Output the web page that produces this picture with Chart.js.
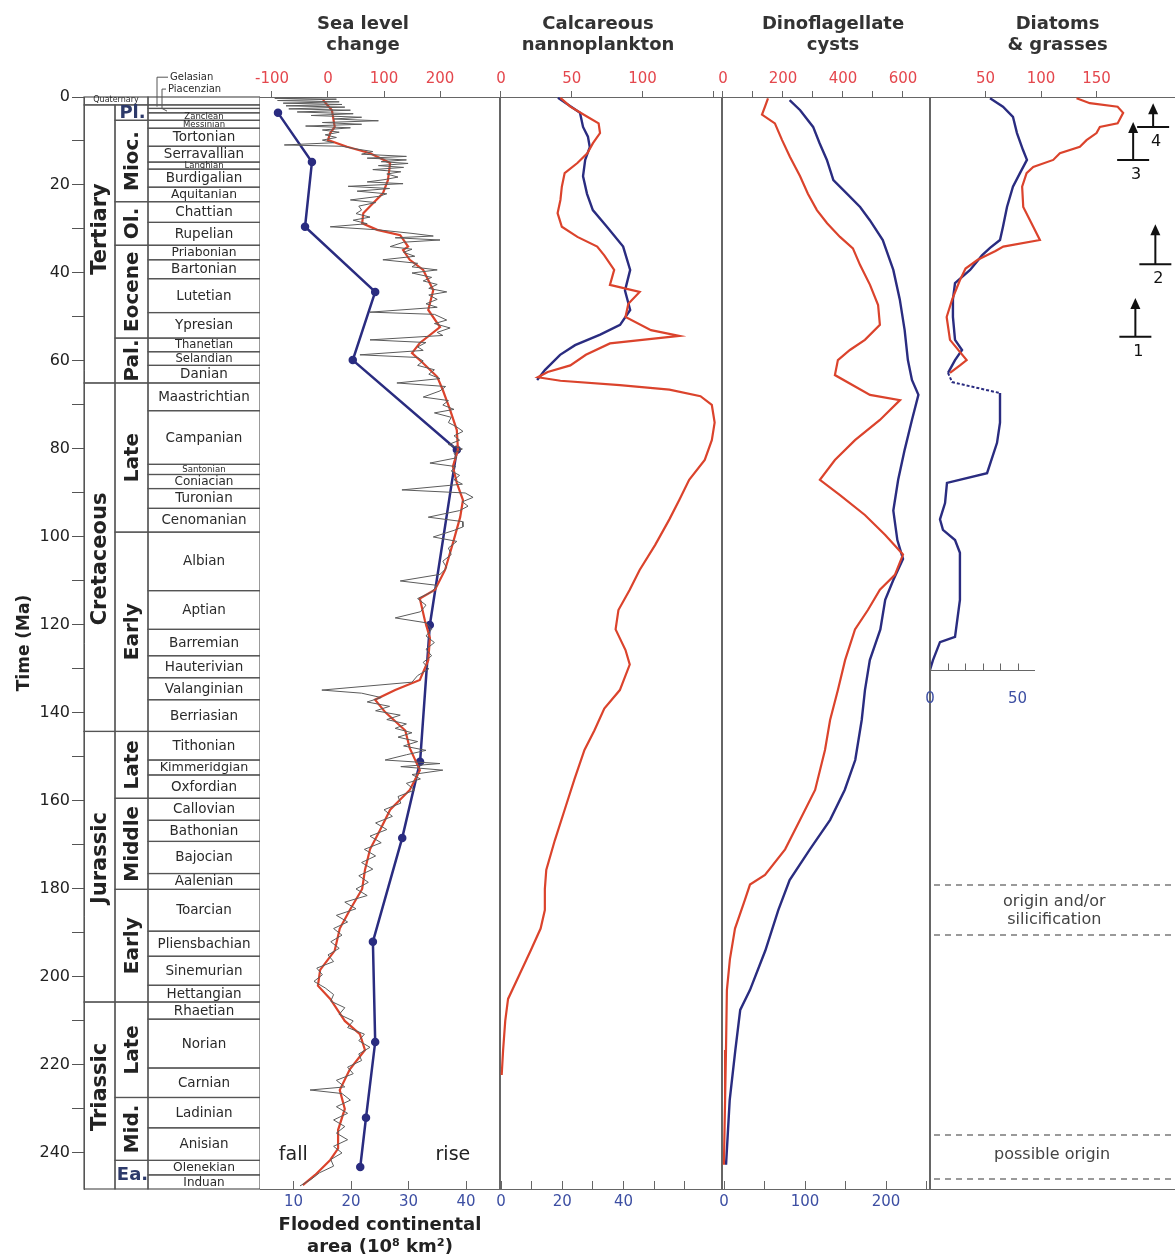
<!DOCTYPE html>
<html>
<head>
<meta charset="utf-8">
<title>Sea level and phytoplankton diversity</title>
<script src="https://cdn.jsdelivr.net/npm/chart.js@4"></script>
<style>
  html, body { margin: 0; padding: 0; background: #fff; overflow: hidden; }
  #page { position: relative; width: 1175px; height: 1258px; }
  #page canvas { position: absolute; top: 0; }
</style>
</head>
<body>
<div id="page">
  <canvas id="timeChart" width="260" height="1258" style="left:0px"></canvas>
  <canvas id="seaChart" width="320" height="1258" style="left:220px"></canvas>
  <canvas id="nannoChart" width="302" height="1258" style="left:460px"></canvas>
  <canvas id="dinoChart" width="288" height="1258" style="left:682px"></canvas>
  <canvas id="diaChart" width="285" height="1258" style="left:890px"></canvas>
</div>
<script>
// ---------- time scale (Ma) ----------
const timeTicks = [0, 10, 20, 30, 40, 50, 60, 70, 80, 90, 100, 110, 120, 130, 140, 150, 160, 170, 180, 190, 200, 210, 220, 230, 240];
const timeLabels = [0, 20, 40, 60, 80, 100, 120, 140, 160, 180, 200, 220, 240];

const periodNames = ['Tertiary', 'Cretaceous', 'Jurassic', 'Triassic'];
const periodTop = [1.8, 65.0, 144.2, 205.7];
const periodBase = [65.0, 144.2, 205.7, 248.2];
const periodLabelAge = [30, 105, 173, 225];

const epochNames = ['Pl.', 'Mioc.', 'Ol.', 'Eocene', 'Pal.', 'Late', 'Early', 'Late', 'Middle', 'Early', 'Late', 'Mid.', 'Ea.'];
const epochTop = [1.8, 5.3, 23.8, 33.7, 54.8, 65.0, 98.9, 144.2, 159.4, 180.1, 205.7, 227.4, 241.7];
const epochBase = [5.3, 23.8, 33.7, 54.8, 65.0, 98.9, 144.2, 159.4, 180.1, 205.7, 227.4, 241.7, 248.2];
const epochUpright = ['Pl.', 'Ea.'];

const stageNames = ['Gelasian', 'Piacenzian', 'Zanclean', 'Messinian', 'Tortonian', 'Serravallian', 'Langhian',
  'Burdigalian', 'Aquitanian', 'Chattian', 'Rupelian', 'Priabonian', 'Bartonian', 'Lutetian', 'Ypresian',
  'Thanetian', 'Selandian', 'Danian', 'Maastrichtian', 'Campanian', 'Santonian', 'Coniacian', 'Turonian',
  'Cenomanian', 'Albian', 'Aptian', 'Barremian', 'Hauterivian', 'Valanginian', 'Berriasian', 'Tithonian',
  'Kimmeridgian', 'Oxfordian', 'Callovian', 'Bathonian', 'Bajocian', 'Aalenian', 'Toarcian', 'Pliensbachian',
  'Sinemurian', 'Hettangian', 'Rhaetian', 'Norian', 'Carnian', 'Ladinian', 'Anisian', 'Olenekian', 'Induan'];
const stageBase = [2.6, 3.6, 5.3, 7.1, 11.2, 14.8, 16.4, 20.5, 23.8, 28.5, 33.7, 37.0, 41.3, 49.0, 54.8,
  57.9, 61.0, 65.0, 71.3, 83.5, 85.8, 89.0, 93.5, 98.9, 112.2, 121.0, 127.0, 132.0, 137.0, 144.2, 150.7,
  154.1, 159.4, 164.4, 169.2, 176.5, 180.1, 189.6, 195.3, 201.9, 205.7, 209.6, 220.7, 227.4, 234.3, 241.7, 245.0, 248.2];
const stageOutside = ['Gelasian', 'Piacenzian'];

// ---------- series: [age Ma, value] ----------
// sea level change (m), short-term curve
const seaShort = [
  [0, -10], [0.3, -95], [0.5, 15], [0.8, -90], [1.1, 20], [1.4, -80], [1.7, 25], [2.0, -75], [2.3, 30], [2.7, -70],
  [3.0, 40], [3.4, -55], [3.8, 45], [4.2, -30], [4.6, 60], [5.0, 10], [5.4, 90], [5.8, -10], [6.2, 60], [6.6, -40],
  [7.0, 40], [7.5, -10], [8.0, 20], [8.6, -5], [9.2, 15], [9.8, -10], [10.4, 10], [10.9, -78], [11.2, 25], [11.8, 50],
  [12.4, 80], [13.0, 60], [13.5, 140], [13.9, 70], [14.3, 140], [14.7, 95], [15.1, 143], [15.6, 90], [16.0, 135], [16.5, 80],
  [17.0, 130], [17.5, 105], [18.2, 125], [18.8, 100], [19.3, 70], [19.7, 134], [20.3, 36], [20.8, 110], [21.4, 52], [22.0, 105],
  [22.6, 90], [23.4, 40], [24.0, 85], [24.8, 55], [25.7, 60], [26.5, 50], [27.3, 75], [28.0, 45], [28.8, 70], [29.5, 4],
  [30.2, 90], [31.0, 150], [31.6, 188], [32.0, 120], [32.5, 200], [33.0, 135], [34.0, 111], [34.6, 150], [35.3, 135], [36.2, 155],
  [37.0, 98], [37.8, 160], [38.6, 150], [39.3, 195], [40.0, 150], [41.0, 185], [41.8, 170], [42.6, 195], [43.5, 180], [44.3, 212],
  [45.0, 180], [46.0, 195], [47.0, 175], [47.8, 195], [48.9, 75], [49.4, 190], [50.7, 212], [51.5, 190], [52.5, 218], [53.5, 195],
  [54.2, 205], [55.2, 75], [55.8, 175], [56.8, 160], [57.6, 170], [58.6, 57], [59.2, 160], [60.0, 170], [61.0, 160], [62.0, 190],
  [63.0, 180], [64.0, 200], [65.0, 123], [65.8, 210], [66.8, 200], [68.2, 170], [69.0, 215], [70.0, 205], [71.0, 225], [71.8, 190],
  [72.8, 220], [74.0, 215], [75.0, 230], [76.0, 241], [77.0, 225], [78.0, 235], [79.0, 215], [80.0, 240], [81.0, 225], [82.0, 230],
  [83.2, 182], [84.0, 228], [85.0, 220], [86.0, 235], [87.0, 225], [88.0, 240], [89.3, 132], [90.0, 245], [91.0, 259], [92.0, 240],
  [93.0, 250], [94.0, 235], [95.5, 179], [96.5, 240], [97.7, 241], [98.5, 225], [100.0, 188], [101.0, 230], [102.5, 215], [104.0, 220],
  [105.5, 205], [107.0, 212], [108.5, 200], [110.0, 129], [111.0, 195], [112.5, 185], [114.0, 160], [115.5, 175], [117.0, 165], [118.4, 120],
  [119.5, 175], [121.0, 185], [122.5, 175], [124.0, 190], [125.5, 175], [127.0, 185], [128.5, 170], [130.0, 180], [131.5, 160], [133.0, 150],
  [134.8, -11], [135.5, 60], [136.5, 95], [137.5, 70], [138.5, 110], [139.5, 85], [140.5, 129], [141.5, 105], [142.5, 140], [143.5, 120],
  [144.5, 150], [145.5, 125], [146.5, 160], [147.5, 135], [148.5, 175], [149.5, 140], [150.7, 102], [151.5, 200], [152.2, 130], [153.0, 205],
  [154.0, 150], [155.0, 165], [156.0, 140], [157.5, 155], [159.0, 125], [160.5, 130], [162.0, 100], [163.5, 115], [165.0, 85], [166.5, 105],
  [168.0, 75], [169.5, 95], [171.0, 65], [172.5, 85], [174.0, 60], [175.5, 80], [177.0, 55], [178.5, 72], [180.0, 50], [181.5, 70],
  [183.0, 30], [184.5, 50], [186.0, 15], [187.5, 35], [189.0, 10], [190.5, 25], [192.0, 5], [193.5, 20], [195.0, 0], [196.5, 10],
  [198.0, -20], [199.5, -10], [201.0, -25], [202.5, -5], [204.0, 10], [205.5, 5], [207.0, 30], [208.5, 20], [210.0, 45], [211.5, 35],
  [213.0, 65], [214.5, 55], [216.0, 75], [217.5, 55], [219.0, 60], [220.5, 35], [222.0, 45], [223.5, 15], [225.0, 30], [225.7, -32],
  [226.5, 25], [228.0, 40], [229.5, 15], [231.0, 35], [232.5, 10], [234.0, 30], [235.5, 15], [237.0, 35], [238.5, 10], [240.0, 25],
  [241.5, 5], [243.0, 10], [244.5, -15], [246.0, -30], [247.5, -50]
];
// sea level change (m), long-term curve
const seaLong = [
  [0.7, -9], [3, 7], [6.8, 12], [8.2, 4], [9.8, 0], [11.3, 34], [12.8, 75], [15, 111], [18.9, 107], [21.9, 98],
  [24.2, 80], [26.4, 63], [28.7, 61], [30.2, 88], [31.4, 129], [34, 143], [34.8, 134], [37, 146], [39.3, 170], [43.9, 188],
  [48.4, 179], [52.3, 200], [55.9, 164], [58.2, 150], [60.5, 170], [63.6, 195], [66.6, 205], [71.1, 218], [75.7, 230], [80.2, 232],
  [84, 223], [87.7, 230], [91.6, 241], [95.5, 236], [101.4, 223], [107.5, 209], [112, 191], [114, 164], [119, 173], [123, 182],
  [128, 179], [132.5, 164], [134.8, 120], [137, 84], [139.8, 102], [144, 138], [148, 146], [153, 164], [157.5, 146], [162, 111],
  [166.6, 93], [171, 75], [175.7, 66], [180, 61], [184.8, 39], [189, 21], [194, 12], [198.4, -14], [202, -18], [205, 4],
  [210, 30], [213, 57], [216.6, 66], [221, 39], [225.7, 21], [230, 30], [234.8, 18], [239, 18], [241.6, 4], [245, -23], [247.3, -45]
];
// flooded continental area (10^6 km2)
const floodArea = [
  [3.6, 7.3], [14.8, 13.2], [29.5, 12.0], [44.3, 24.2], [59.8, 20.3], [80.2, 38.4], [120, 33.7],
  [151.1, 32.0], [168.4, 28.9], [192, 23.8], [214.8, 24.2], [232, 22.6], [243.2, 21.6]
];
// calcareous nannoplankton
const nannoRed = [
  [0.2, 42], [2.2, 49], [4.5, 61], [6, 69], [8.2, 70], [10.5, 65], [12.8, 61], [15, 54], [17.3, 45], [20.4, 43],
  [23.4, 42], [26.4, 40], [29.5, 43], [31.8, 54], [34, 68], [36, 73], [39.3, 80], [42.7, 77], [44.3, 98], [47, 90],
  [50, 88], [53, 106], [54.3, 126], [56, 77], [58.6, 60], [61, 49], [62.5, 33], [63.7, 26], [64.5, 42], [65.5, 84],
  [66.5, 119], [68, 141], [70, 149], [74, 151], [78, 149], [82.5, 144], [87, 133], [91.6, 126], [96, 119], [101.8, 109],
  [107.5, 98], [112, 91], [116.6, 83], [121, 81], [125.7, 88], [129, 91], [134.8, 84], [139, 73], [144, 66], [148.4, 59],
  [155, 52], [162, 45], [169, 38], [175.7, 32], [180, 31], [184.8, 31], [189, 28], [194, 21], [199.5, 13], [205, 5],
  [210, 3], [216.6, 1.5], [222.3, 0.5]
];
const nannoBlue = [
  [0.2, 18.6], [3.6, 25.8], [6.8, 26.8], [9, 28.4], [11.4, 29], [14.3, 27.5], [18, 26.8], [22, 28.1], [25.7, 30], [29.5, 34.6],
  [34, 39.9], [39.3, 42.2], [44, 40.5], [48.4, 42.2], [51.8, 38.9], [54, 32.4], [56.4, 24.2], [58.6, 19.3], [62, 14.4], [64.3, 11.8]
];
// dinoflagellate cysts
const dinoRed = [
  [0.3, 150], [2.2, 140], [4, 130], [6, 173], [9.8, 197], [13.6, 223], [18, 257], [22, 283], [25.7, 313], [28.7, 347],
  [31.8, 390], [34.4, 433], [38.2, 457], [42.7, 490], [47.3, 517], [51.8, 523], [55.2, 473], [57.5, 423], [59.8, 383], [63.2, 373],
  [67.7, 490], [68.9, 590], [73.4, 523], [78, 440], [82.5, 373], [87, 323], [90.5, 390], [95, 473], [99.5, 540], [104, 600],
  [108.6, 573], [112, 523], [116.6, 483], [121, 440], [128, 407], [134.8, 383], [141.6, 357], [148.4, 340], [157.5, 307], [164.3, 257],
  [171, 207], [176.8, 140], [179, 90], [182.5, 73], [189, 40], [196, 23], [203, 13], [216.6, 10], [228, 7], [242.7, 3]
];
const dinoBlue = [
  [0.7, 81], [3, 94], [6.8, 110], [10.5, 118], [14.3, 127], [18.9, 135], [22, 152], [25, 168], [28, 180], [32.5, 196],
  [39.3, 209], [46, 217], [53, 223], [59.8, 227], [64.3, 232], [67.7, 240], [73.4, 232], [80.2, 223], [87, 215], [94, 209],
  [100.7, 214], [105, 221], [109.8, 209], [114.3, 199], [121, 193], [128, 180], [134.8, 174], [141.6, 170], [150.7, 162], [157.5, 149],
  [164.3, 131], [171, 106], [178, 81], [184.8, 67], [194, 51], [203, 32], [207.5, 20], [216.6, 14], [228, 7], [242.7, 2.5]
];
// diatoms & grasses
const diaRed = [
  [0.3, 132], [1.4, 144], [2.2, 169], [3.6, 174], [6, 169], [6.8, 153], [8.2, 150], [9.8, 141], [11.3, 135], [12.8, 117],
  [14.3, 111], [15.9, 93], [17.3, 87], [20.4, 83], [25, 84], [29.5, 93], [32.5, 99], [34, 66], [35, 59], [37, 43],
  [39, 32], [41.6, 27], [46, 20], [50, 15], [55.2, 18], [59.8, 33], [61, 27], [62.7, 18]
];
const diaBlue = [
  [0.3, 34.3], [2.2, 41.7], [4.5, 47.4], [8.2, 49.7], [12, 53.1], [14.3, 55.4], [17.3, 51.4], [20.4, 47.4], [25, 44.0], [29.5, 41.7],
  [32.5, 40.0], [34.3, 34.3], [36, 29.7], [39.3, 22.9], [42.3, 14.3], [46, 13.1], [50, 13.1], [55.2, 14.3], [57.5, 18.3], [59.8, 14.3], [62.7, 10.3]
];
const diaBlueGap = [[62.7, 10.3], [64.8, 12.6], [67.3, 40]];
const diaBlueOld = [
  [67.3, 40], [74, 40], [78.6, 38.3], [85.5, 32.6], [87.7, 9.7], [92.3, 8.6], [96, 5.7], [98.4, 7.4], [100.7, 14.3], [103.6, 17.1],
  [114.3, 17.1], [122.7, 14.3], [123.9, 5.7], [128, 1.7], [130.2, 0]
];

// ---------- axis ticks ----------
const seaTopTicks = [-100, 0, 100, 200];
const seaBotTicks = [10, 20, 30, 40];
const nannoTopTicks = [0, 50, 100, 150];
const nannoTopLabels = [0, 50, 100];
const nannoBotTicks = [0, 10, 20, 30, 40, 50, 60];
const nannoBotLabels = [0, 20, 40];
const dinoTopTicks = [0, 100, 200, 300, 400, 500, 600];
const dinoTopLabels = [0, 200, 400, 600];
const dinoBotTicks = [0, 50, 100, 150, 200, 250];
const dinoBotLabels = [0, 100, 200];
const diaTopTicks = [50, 100, 150];
const diaMiniTicks = [0, 10, 20, 30, 40, 50];
const diaMiniLabels = [0, 50];

// ---------- annotations ----------
const seaNotes = [['fall', -62, 240.5], ['rise', 223, 240.5]];
const diaDashAge = [179, 190.5, 236, 246];
const diaNotes = [['origin and/or', 112, 183], ['silicification', 112, 187], ['possible origin', 110, 240.5]];
const markerLabel = ['1', '2', '3', '4'];
const markerVal = [185, 203, 183, 201];
const markerAge = [54.5, 38, 14.3, 6.8];
const markerTip = [45.7, 28.9, 5.7, 1.4];

// ---------- styling ----------
const FONT = '"DejaVu Sans", "Liberation Sans", sans-serif';
const RED = '#db432c', BLUE = '#2a2c80', GREY = '#5b5b5b';
const RED_TXT = '#e4474d', BLUE_TXT = '#3d4fa3', AXIS = '#666', INK = '#2a2a2a';
const AGE_MAX = 248.2;
const columnEdges = [0, 31, 64, 176];

Chart.defaults.font.family = FONT;
Chart.defaults.animation = false;

const profile = pairs => pairs.map(p => ({ x: p[1], y: p[0] }));

function lineSet(pairs, axis, color, width, extra) {
  return Object.assign({
    data: profile(pairs), xAxisID: axis, yAxisID: 'y', showLine: true,
    borderColor: color, backgroundColor: color, borderWidth: width, pointRadius: 0, tension: 0
  }, extra || {});
}

const ageAxis = () => ({ type: 'linear', reverse: true, min: 0, max: AGE_MAX, display: false });

function topAxis(min, max, ticks, labels) {
  return {
    type: 'linear', position: 'top', min: min, max: max,
    afterFit: s => { s.height = 97; },
    afterBuildTicks: s => { s.ticks = ticks.map(v => ({ value: v })); },
    ticks: { autoSkip: false, maxRotation: 0, color: RED_TXT, padding: 3, font: { size: 15 },
      callback: v => labels.includes(v) ? String(v) : '' },
    grid: { drawOnChartArea: false, tickLength: 6, color: AXIS },
    border: { color: AXIS }
  };
}

function bottomAxis(min, max, ticks, labels, title) {
  const ax = {
    type: 'linear', position: 'bottom', min: min, max: max,
    afterFit: s => { s.height = 69; },
    afterBuildTicks: s => { s.ticks = ticks.map(v => ({ value: v })); },
    ticks: { autoSkip: false, maxRotation: 0, color: BLUE_TXT, padding: 12, font: { size: 15 },
      callback: v => labels.includes(v) ? String(v) : '' },
    grid: { drawOnChartArea: false, tickLength: -8, color: AXIS },
    border: { color: AXIS }
  };
  if (title) {
    ax.title = { display: true, text: title, color: '#222', font: { size: 18, weight: 'bold' }, lineHeight: 1.05, padding: { bottom: 0 } };
  }
  return ax;
}

// ---------- plugins ----------
const panelTitle = {
  id: 'panelTitle',
  afterDraw(chart, args, opts) {
    if (!opts.lines) return;
    const { ctx, chartArea: a } = chart;
    ctx.save();
    ctx.font = 'bold 18px ' + FONT;
    ctx.fillStyle = '#333';
    ctx.textAlign = 'center';
    ctx.textBaseline = 'middle';
    const cx = (a.left + a.right) / 2 + (opts.dx || 0);
    opts.lines.forEach((t, i) => ctx.fillText(t, cx, 24 + i * 21));
    ctx.restore();
  }
};

const panelFrame = {
  id: 'panelFrame',
  defaults: { left: true, right: true },
  beforeDatasetsDraw(chart, args, opts) {
    const { ctx, chartArea: a } = chart;
    ctx.save();
    ctx.strokeStyle = AXIS;
    ctx.lineWidth = 1;
    ctx.beginPath();
    if (opts.left) { ctx.moveTo(Math.round(a.left) + 0.5, a.top); ctx.lineTo(Math.round(a.left) + 0.5, a.bottom); }
    if (opts.right) { ctx.moveTo(Math.round(a.right) - 0.5, a.top); ctx.lineTo(Math.round(a.right) - 0.5, a.bottom); }
    ctx.stroke();
    ctx.restore();
  }
};
Chart.register(panelTitle, panelFrame);

const timescale = {
  id: 'timescale',
  afterDraw(chart) {
    const { ctx, scales: { x, y } } = chart;
    const cx = columnEdges.map(v => x.getPixelForValue(v));
    const py = a => y.getPixelForValue(a);
    const rect = (c0, c1, t, b) => ctx.strokeRect(cx[c0], py(t), cx[c1] - cx[c0], py(b) - py(t));
    const vtext = (s, xm, ym) => {
      ctx.save(); ctx.translate(xm, ym); ctx.rotate(-Math.PI / 2); ctx.fillText(s, 0, 0); ctx.restore();
    };
    ctx.save();
    ctx.strokeStyle = '#555';
    ctx.lineWidth = 1.2;
    ctx.textAlign = 'center';
    ctx.textBaseline = 'middle';

    rect(0, 2, 0, 1.8);
    ctx.font = '8px ' + FONT;
    ctx.fillStyle = INK;
    ctx.fillText('Quaternary', (cx[0] + cx[2]) / 2, py(0.6));

    ctx.font = 'bold 21px ' + FONT;
    ctx.fillStyle = '#222';
    periodNames.forEach((n, i) => {
      rect(0, 1, periodTop[i], periodBase[i]);
      vtext(n, (cx[0] + cx[1]) / 2 + 1, py(periodLabelAge[i]));
    });

    epochNames.forEach((n, i) => {
      rect(1, 2, epochTop[i], epochBase[i]);
      const xm = (cx[1] + cx[2]) / 2 + 1, ym = py((epochTop[i] + epochBase[i]) / 2);
      if (epochUpright.includes(n)) {
        ctx.font = 'bold 18px ' + FONT;
        ctx.fillStyle = '#2d3a6a';
        ctx.fillText(n, xm, ym + 1);
      } else {
        ctx.font = 'bold 20px ' + FONT;
        ctx.fillStyle = '#222';
        vtext(n, xm, ym);
      }
    });

    rect(2, 3, 0, 1.8);
    ctx.fillStyle = INK;
    stageNames.forEach((n, i) => {
      const top = i ? stageBase[i - 1] : 1.8, base = stageBase[i];
      rect(2, 3, top, base);
      if (stageOutside.includes(n)) return;
      const h = py(base) - py(top);
      const size = Math.max(8.5, Math.min(13.5, h * 0.85));
      ctx.font = size.toFixed(1) + 'px ' + FONT;
      ctx.fillText(n, (cx[2] + cx[3]) / 2, py((top + base) / 2) + 0.5, cx[3] - cx[2] - 4);
    });

    // stages too thin to label in place
    ctx.font = '10px ' + FONT;
    ctx.textAlign = 'left';
    ctx.fillText('Gelasian', cx[2] + 22, py(-4.5));
    ctx.fillText('Piacenzian', cx[2] + 20, py(-1.8));
    ctx.lineWidth = 1;
    ctx.beginPath();
    ctx.moveTo(cx[2] + 20, py(-4.5)); ctx.lineTo(cx[2] + 9, py(-4.5)); ctx.lineTo(cx[2] + 9, py(2.2));
    ctx.moveTo(cx[2] + 18, py(-1.8)); ctx.lineTo(cx[2] + 14, py(-1.8)); ctx.lineTo(cx[2] + 14, py(2.6)); ctx.lineTo(cx[2] + 19, py(3.2));
    ctx.stroke();
    ctx.restore();
  }
};

const seaNotesPlugin = {
  id: 'seaNotes',
  afterDatasetsDraw(chart) {
    const { ctx, scales: { xTop, y } } = chart;
    ctx.save();
    ctx.font = '19px ' + FONT;
    ctx.fillStyle = '#222';
    ctx.textAlign = 'center';
    ctx.textBaseline = 'middle';
    seaNotes.forEach(([t, v, a]) => ctx.fillText(t, xTop.getPixelForValue(v), y.getPixelForValue(a)));
    ctx.restore();
  }
};

const diatomDecor = {
  id: 'diatomDecor',
  afterDatasetsDraw(chart) {
    const { ctx, chartArea: a, scales: { xTop, xDia, y } } = chart;
    ctx.save();
    // dashed bands
    ctx.strokeStyle = '#9a9a9a';
    ctx.lineWidth = 2;
    ctx.setLineDash([6, 5]);
    diaDashAge.forEach(age => {
      const py = Math.round(y.getPixelForValue(age));
      ctx.beginPath(); ctx.moveTo(a.left + 4, py); ctx.lineTo(a.right, py); ctx.stroke();
    });
    ctx.setLineDash([]);
    ctx.font = '16px ' + FONT;
    ctx.fillStyle = '#444';
    ctx.textAlign = 'center';
    ctx.textBaseline = 'middle';
    diaNotes.forEach(([t, v, age]) => ctx.fillText(t, xTop.getPixelForValue(v), y.getPixelForValue(age)));

    // small axis for the diatom genus count
    const ya = Math.round(y.getPixelForValue(130.2)) + 0.5;
    ctx.strokeStyle = AXIS;
    ctx.lineWidth = 1;
    ctx.beginPath();
    ctx.moveTo(xDia.getPixelForValue(0), ya); ctx.lineTo(xDia.getPixelForValue(60), ya);
    diaMiniTicks.forEach(v => { const p = Math.round(xDia.getPixelForValue(v)) + 0.5; ctx.moveTo(p, ya); ctx.lineTo(p, ya - 7); });
    ctx.stroke();
    ctx.font = '15px ' + FONT;
    ctx.fillStyle = BLUE_TXT;
    diaMiniLabels.forEach(v => ctx.fillText(String(v), xDia.getPixelForValue(v), ya + 29));

    // first-appearance markers
    ctx.strokeStyle = '#111';
    ctx.fillStyle = '#111';
    ctx.lineWidth = 2;
    ctx.font = '16px ' + FONT;
    markerLabel.forEach((lab, i) => {
      const xm = xTop.getPixelForValue(markerVal[i]);
      const yb = y.getPixelForValue(markerAge[i]);
      const yt = y.getPixelForValue(markerTip[i]);
      ctx.beginPath();
      ctx.moveTo(xm - 16, yb); ctx.lineTo(xm + 16, yb);
      ctx.moveTo(xm, yb); ctx.lineTo(xm, yt + 9);
      ctx.stroke();
      ctx.beginPath();
      ctx.moveTo(xm, yt); ctx.lineTo(xm - 5, yt + 11); ctx.lineTo(xm + 5, yt + 11); ctx.closePath();
      ctx.fill();
      ctx.fillText(lab, xm + 3, yb + 15);
    });
    ctx.restore();
  }
};

function panelOptions(scales, title, pad, frame) {
  return {
    responsive: false,
    animation: false,
    layout: { padding: { left: pad[0], right: pad[1], top: 0, bottom: 0 } },
    plugins: { legend: { display: false }, tooltip: { enabled: false }, panelTitle: title, panelFrame: frame },
    scales: Object.assign({ y: ageAxis() }, scales)
  };
}

// ---------- charts ----------
new Chart(document.getElementById('timeChart'), {
  type: 'scatter',
  data: { datasets: [] },
  options: {
    responsive: false,
    animation: false,
    layout: { padding: { top: 97, bottom: 69, left: 0, right: 0 } },
    plugins: { legend: { display: false }, tooltip: { enabled: false }, panelTitle: false, panelFrame: false },
    scales: {
      x: { type: 'linear', min: 0, max: 176, display: false },
      y: {
        type: 'linear', reverse: true, min: 0, max: AGE_MAX, position: 'left',
        afterFit: s => { s.width = 84; },
        afterBuildTicks: s => { s.ticks = timeTicks.map(v => ({ value: v })); },
        ticks: { autoSkip: false, color: '#222', padding: 2, font: { size: 16 },
          callback: v => timeLabels.includes(v) ? String(v) : '' },
        grid: { drawOnChartArea: false, tickLength: 12, color: '#555' },
        border: { color: '#555' },
        title: { display: true, text: 'Time (Ma)', color: '#222', font: { size: 17, weight: 'bold' }, padding: { top: 14 } }
      }
    }
  },
  plugins: [timescale]
});

new Chart(document.getElementById('seaChart'), {
  type: 'scatter',
  data: {
    datasets: [
      lineSet(seaShort, 'xTop', GREY, 1),
      lineSet(seaLong, 'xTop', RED, 2.2),
      lineSet(floodArea, 'xBot', BLUE, 2.5, { pointRadius: 3 })
    ]
  },
  options: panelOptions({
    xTop: topAxis(-121.4, 307.1, seaTopTicks, seaTopTicks),
    xBot: bottomAxis(4.17, 45.9, seaBotTicks, seaBotTicks, ['Flooded continental', 'area (10⁸ km²)'])
  }, { lines: ['Sea level', 'change'], dx: -17 }, [40, 40], { left: false, right: true }),
  plugins: [seaNotesPlugin]
});

new Chart(document.getElementById('nannoChart'), {
  type: 'scatter',
  data: {
    datasets: [
      lineSet(nannoRed, 'xTop', RED, 2.2),
      lineSet(nannoBlue, 'xBot', BLUE, 2.4)
    ]
  },
  options: panelOptions({
    xTop: topAxis(-0.7, 156.2, nannoTopTicks, nannoTopLabels),
    xBot: bottomAxis(-0.33, 72.2, nannoBotTicks, nannoBotLabels)
  }, { lines: ['Calcareous', 'nannoplankton'], dx: -13 }, [40, 40], { left: true, right: true })
});

new Chart(document.getElementById('dinoChart'), {
  type: 'scatter',
  data: {
    datasets: [
      lineSet(dinoRed, 'xTop', RED, 2.2),
      lineSet(dinoBlue, 'xBot', BLUE, 2.4)
    ]
  },
  options: panelOptions({
    xTop: topAxis(-3.3, 690, dinoTopTicks, dinoTopLabels),
    xBot: bottomAxis(-2.5, 254.3, dinoBotTicks, dinoBotLabels)
  }, { lines: ['Dinoflagellate', 'cysts'], dx: 7 }, [40, 40], { left: true, right: true })
});

new Chart(document.getElementById('diaChart'), {
  type: 'scatter',
  data: {
    datasets: [
      lineSet(diaRed, 'xTop', RED, 2.2),
      lineSet(diaBlue, 'xDia', BLUE, 2.4),
      lineSet(diaBlueGap, 'xDia', BLUE, 2, { borderDash: [3, 2] }),
      lineSet(diaBlueOld, 'xDia', BLUE, 2.4)
    ]
  },
  options: panelOptions({
    xTop: topAxis(0, 220.7, diaTopTicks, diaTopTicks),
    xDia: { type: 'linear', min: 0, max: 140, display: false },
    xBot: {
      type: 'linear', position: 'bottom', min: 0, max: 1,
      afterFit: s => { s.height = 69; },
      ticks: { display: false },
      grid: { drawOnChartArea: false, drawTicks: false },
      border: { color: AXIS }
    }
  }, { lines: ['Diatoms', '& grasses'], dx: 5 }, [40, 0], { left: true, right: false }),
  plugins: [diatomDecor]
});
</script>
